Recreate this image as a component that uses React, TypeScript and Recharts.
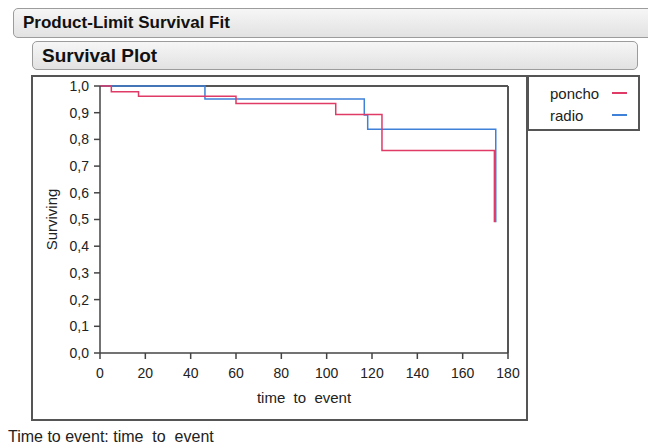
import { LineChart, Line, XAxis, YAxis, ReferenceLine } from 'recharts';

const xTicks = [0, 20, 40, 60, 80, 100, 120, 140, 160, 180];
const yTicks = [0, 0.1, 0.2, 0.3, 0.4, 0.5, 0.6, 0.7, 0.8, 0.9, 1.0];

const seriesNames = ['poncho', 'radio'];

const ponchoTime = [0, 5, 17, 60, 104, 124.4, 174];
const ponchoSurv = [1.0, 0.978, 0.962, 0.934, 0.893, 0.758, 0.49];

const radioTime = [0, 46.3, 116.6, 118.1, 174.6];
const radioSurv = [1.0, 0.951, 0.891, 0.838, 0.49];

const ponchoData = ponchoTime.map((t, i) => ({ t, s: ponchoSurv[i] }));
const radioData = radioTime.map((t, i) => ({ t, s: radioSurv[i] }));

const RED = '#e03a66';
const BLUE = '#3f80d8';
const FONT = '"Liberation Sans", Arial, sans-serif';
const colors = [RED, BLUE];

const headerStyle: React.CSSProperties = {
  position: 'absolute',
  background: 'linear-gradient(#f6f6f6, #e2e2e2)',
  border: '1px solid #9c9c9c',
  borderRadius: 5,
  boxSizing: 'border-box',
  fontFamily: FONT,
  fontWeight: 'bold',
  color: '#111',
  paddingLeft: 9,
  display: 'flex',
  alignItems: 'center',
};

const fmt = (v: number) => v.toFixed(1).replace('.', ',');

export default function App() {
  return (
    <div style={{ position: 'absolute', left: 0, top: 0, width: 648, height: 448, background: '#fff', overflow: 'hidden' }}>
      <div style={{ ...headerStyle, left: 13, top: 8, width: 660, height: 30, fontSize: 17 }}>Product-Limit Survival Fit</div>
      <div style={{ ...headerStyle, left: 32, top: 41, width: 606, height: 29, fontSize: 19 }}>Survival Plot</div>
      <div
        style={{
          position: 'absolute',
          left: 31,
          top: 75,
          width: 497,
          height: 346,
          boxSizing: 'border-box',
          border: '2px solid #555',
        }}
      />
      <div
        style={{
          position: 'absolute',
          left: 527,
          top: 75,
          width: 113,
          height: 56,
          boxSizing: 'border-box',
          border: '2px solid #555',
          background: '#fff',
          fontFamily: FONT,
          fontSize: 15,
          color: '#222',
          paddingTop: 5,
        }}
      >
        {seriesNames.map((name, i) => (
          <div key={name} style={{ display: 'flex', alignItems: 'center', height: 22 }}>
            <span style={{ width: 60, paddingLeft: 21 }}>{name}</span>
            <span style={{ width: 15, height: 0, borderTop: `2px solid ${colors[i]}`, marginLeft: 2 }} />
          </div>
        ))}
      </div>
      <div style={{ position: 'absolute', left: 0, top: 0 }}>
        <LineChart width={648} height={448} margin={{ top: 86, right: 140, bottom: 45, left: 40 }}>
          <XAxis
            dataKey="t"
            type="number"
            domain={[0, 180]}
            ticks={xTicks}
            allowDataOverflow
            height={50}
            tickSize={6}
            tickMargin={9}
            stroke="#444"
            strokeWidth={1.5}
            tick={{ fill: '#222', fontSize: 14, fontFamily: FONT }}
            label={{
              value: 'time\u00a0\u00a0to\u00a0\u00a0event',
              position: 'insideBottom',
              offset: 0,
              style: { fill: '#222', fontSize: 15, fontFamily: FONT },
            }}
          />
          <YAxis
            dataKey="s"
            type="number"
            domain={[0, 1]}
            ticks={yTicks}
            width={60}
            tickSize={6}
            tickMargin={5}
            tickFormatter={fmt}
            stroke="#444"
            strokeWidth={1.5}
            tick={{ fill: '#222', fontSize: 14, fontFamily: FONT }}
            label={{
              value: 'Surviving',
              angle: -90,
              position: 'insideLeft',
              offset: 12,
              style: { fill: '#222', fontSize: 15, fontFamily: FONT, textAnchor: 'middle' },
            }}
          />
          <ReferenceLine y={1} stroke="#555" strokeWidth={2} />
          <ReferenceLine x={180} stroke="#555" strokeWidth={2} />
          <Line
            name={seriesNames[1]}
            data={radioData}
            dataKey="s"
            type="stepAfter"
            stroke={BLUE}
            strokeWidth={1.5}
            dot={false}
            isAnimationActive={false}
          />
          <Line
            name={seriesNames[0]}
            data={ponchoData}
            dataKey="s"
            type="stepAfter"
            stroke={RED}
            strokeWidth={1.5}
            dot={false}
            isAnimationActive={false}
          />
        </LineChart>
      </div>
      <div
        style={{
          position: 'absolute',
          left: 8,
          top: 428,
          fontFamily: FONT,
          fontSize: 16,
          color: '#222',
          whiteSpace: 'pre',
        }}
      >
        Time to event: time  to  event
      </div>
    </div>
  );
}
